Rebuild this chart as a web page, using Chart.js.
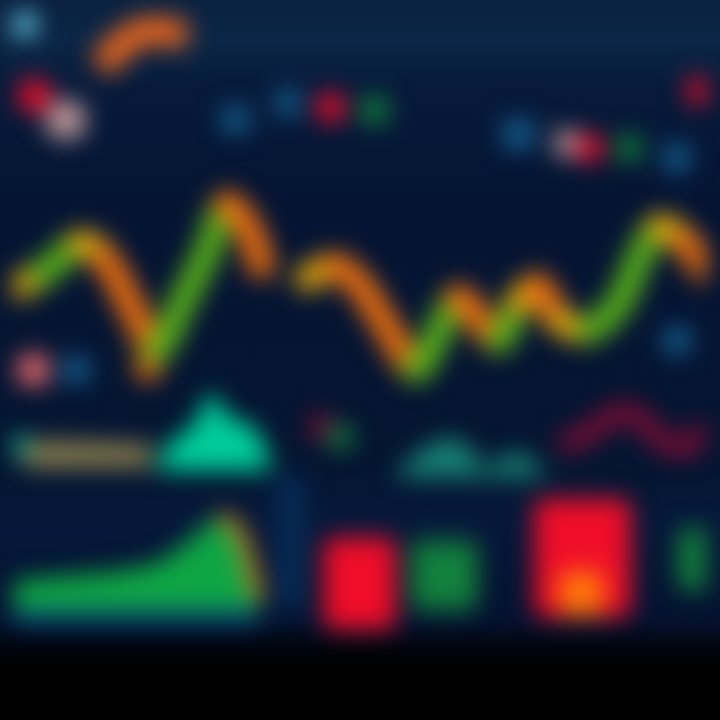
<!DOCTYPE html>
<html>
<head>
<meta charset="utf-8">
<script src="https://cdn.jsdelivr.net/npm/chart.js@4"></script>
<style>
  html, body { margin: 0; padding: 0; }
  body {
    width: 720px; height: 720px; overflow: hidden;
    background: linear-gradient(to bottom,
      #0a2140 0px, #0b2646 40px, #071a3a 90px, #051433 200px,
      #051532 470px, #06183a 520px, #041230 620px, #01040c 650px, #000 670px);
  }
  #board { position: absolute; left: 0; top: 0; filter: blur(12px) saturate(1.15); }
</style>
</head>
<body>
<canvas id="board" width="720" height="720"></canvas>
<script>
// ===== ДАНІ (рівні 0..100 по обох осях) =====
// головна лінія ціни
const priceX = [0, 4.2, 9.7, 13.2, 17.4, 20.6, 24.3, 27.8, 30.8, 34, 35.8, 38.5, 42.4, 46.5, 50.3, 54.2, 58.1, 61.1, 64.2, 67.4, 70.1, 72.9, 75.7, 78.9, 83.3, 87.5, 90.3, 93.3, 97.2, 100];
const priceY = [60.4, 62.5, 66.9, 64.6, 56.9, 51.4, 58.3, 65.3, 72.5, 68.8, 63.6, null, 61.8, 63.6, 60.4, 54.2, 48.6, 53.5, 59, 55.6, 52.8, 58.3, 60.7, 55.6, 54.4, 58.3, 64.6, 69.2, 66.9, 62.8];

// маленька лінія зверху зліва
const miniX = [12.5, 16.7, 20.1, 25];
const miniY = [92.4, 96.5, 97.6, 96.9];

// маркери (легенда / тікери)
const markX = [1.5, 3, 7.5, 32, 39.6, 45.8, 52.1, 72.9, 79.9, 83.3, 88.9, 95.8, 99.3, 2.8, 9, 19.4, 44.4, 47.2, 95.8, 0.5];
const markY = [98.6, 88.2, 84.7, 84.7, 87.2, 86.5, 86.1, 82.6, 81.3, 80.6, 80.6, 79.2, 88.9, 48.6, 48.6, 48.9, 40.3, 38.9, 52.8, 37.5];
const markTone = ['cyan', 'red', 'pale', 'blue', 'blue', 'red', 'green', 'blue', 'pale', 'red', 'green', 'blue', 'red', 'pink', 'blue', 'orange', 'maroon', 'green', 'blue', 'teal'];

// бірюзова область
const tealX = [20.8, 23, 25.7, 28.5, 31.3, 34.7, 37.2];
const tealY = [35, 38.5, 40.3, 45.1, 41.7, 40.3, 35];

// бежева смуга
const bandX = [1.5, 3, 10, 20];
const bandY = [37.5, 38.2, 38.2, 37.8];

// горбики посередині
const bumpX = [55, 58.3, 61.8, 65.3, 68, 71.5, 74.3, 77];
const bumpY = [33.3, 36.5, 38.5, 38, 34.5, 36.5, 36, 33.3];

// бордова хвиля
const waveX = [79, 83.3, 87.5, 90.3, 93.8, 97.2, 100];
const waveY = [37.5, 39.6, 42.4, 41.7, 38.2, 37.5, 40.3];

// зелена область знизу
const greenX = [0, 6.9, 13.9, 20.8, 25.7, 29.9, 32.6, 34.7, 35.4];
const greenY = [18.1, 18.8, 19.4, 20.8, 24.3, 27.5, 25, 18.1, 15.3];

// свічки знизу: [низ, верх]
const candleX = [40, 50, 62.2, 82, 82.2, 98.9];
const candleLow = [14, 11.1, 13.9, 13.2, 12.8, 16.7];
const candleHigh = [33.3, 24.3, 23.9, 19.5, 29.9, 25.7];
const candleTone = ['navy', 'red', 'green', 'orange', 'red', 'green'];

// ===== СТИЛІ =====
const tones = {
  cyan: '#7ad8ee', red: '#d8142c', pale: '#b89a9a', blue: '#1d5d86', green: '#1d7c42',
  pink: '#e07070', orange: '#f07a1a', maroon: '#6a1030', navy: '#0b2c50', teal: '#18b090'
};
const candleWidth = [28, 72, 66, 44, 96, 40];
const markSize = [14, 18, 22, 16, 15, 16, 16, 18, 15, 15, 15, 16, 16, 18, 16, 14, 14, 14, 16, 14];

const pts = (xs, ys) => xs.map((x, i) => ({ x: x, y: ys[i] }));

const datasets = [
  // бежева смуга
  { type: 'line', data: pts(bandX, bandY), borderWidth: 0, pointRadius: 0,
    backgroundColor: 'rgba(150,138,88,0.9)', fill: { value: 34.5 }, tension: 0.2 },
  // бірюзова область
  { type: 'line', data: pts(tealX, tealY), borderWidth: 0, pointRadius: 0,
    backgroundColor: '#13c79a', fill: { value: 34 }, tension: 0.35 },
  // горбики
  { type: 'line', data: pts(bumpX, bumpY), borderWidth: 0, pointRadius: 0,
    backgroundColor: 'rgba(40,150,130,0.8)', fill: { value: 33 }, tension: 0.4 },
  // бордова хвиля
  { type: 'line', data: pts(waveX, waveY), borderColor: '#701030', borderWidth: 20,
    pointRadius: 0, fill: false, tension: 0.4 },
  // помаранчевий край зеленої області
  { type: 'line', data: pts(greenX.slice(5), greenY.slice(5)), borderColor: '#c9822a', borderWidth: 12,
    pointRadius: 0, fill: false, tension: 0.3 },
  // зелена область
  { type: 'line', data: pts(greenX, greenY), borderWidth: 0, pointRadius: 0,
    backgroundColor: '#1da04c', fill: { value: 14 }, tension: 0.3 },
  // синя смуга під зеленою областю
  { type: 'line', data: pts([0, 35.4], [15.5, 15.5]), borderWidth: 0, pointRadius: 0,
    backgroundColor: '#0f4e70', fill: { value: 12 } },
  // маленька лінія
  { type: 'line', data: pts(miniX, miniY), borderColor: '#d9682a', borderWidth: 28,
    pointRadius: 0, fill: false, tension: 0.4 },
  // головна лінія: ріст — зелений, падіння — помаранчевий, пласко — жовтий
  { type: 'line', data: pts(priceX, priceY), borderWidth: 26, pointRadius: 0, fill: false,
    tension: 0.3, spanGaps: false, borderCapStyle: 'round', borderJoinStyle: 'round',
    borderColor: '#e0a020',
    segment: {
      borderColor: ctx => {
        const d = ctx.p1.parsed.y - ctx.p0.parsed.y;
        if (Math.abs(d) < 2.5) return '#dcaa22';
        return d > 0 ? '#62b02a' : '#e4741e';
      }
    } },
  // маркери
  { type: 'line', data: pts(markX, markY), showLine: false, pointStyle: 'rectRounded',
    pointRadius: markSize, pointBorderWidth: 0,
    pointBackgroundColor: markTone.map(t => tones[t]) }
];

// свічки — окремий набір на кожну (різна ширина)
candleX.forEach((x, i) => {
  datasets.splice(i, 0, {
    type: 'bar', data: [{ x: x, y: [candleLow[i], candleHigh[i]] }],
    backgroundColor: tones[candleTone[i]], borderRadius: 10, borderSkipped: false,
    barThickness: candleWidth[i], grouped: false
  });
});

new Chart(document.getElementById('board'), {
  type: 'line',
  data: { datasets: datasets },
  options: {
    responsive: false,
    animation: false,
    layout: { padding: 0 },
    plugins: { legend: { display: false }, tooltip: { enabled: false } },
    scales: {
      x: { type: 'linear', min: 0, max: 100, offset: false, display: false },
      y: { type: 'linear', min: 0, max: 100, display: false }
    }
  }
});
</script>
</body>
</html>
